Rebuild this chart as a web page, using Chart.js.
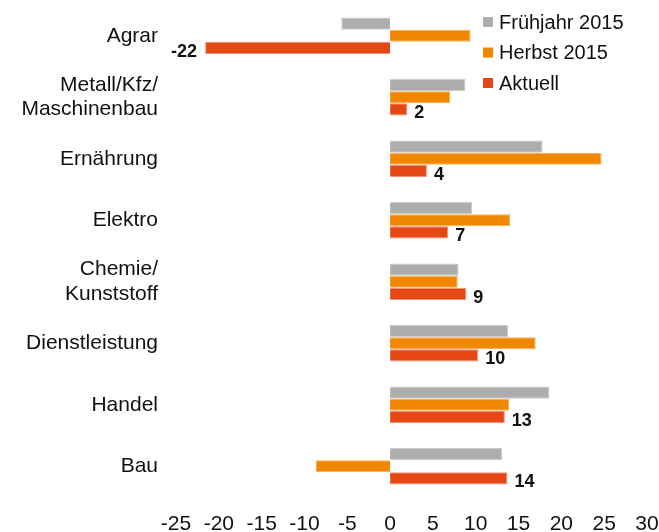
<!DOCTYPE html>
<html>
<head>
<meta charset="utf-8">
<script src="https://cdn.jsdelivr.net/npm/chart.js@4"></script>
<style>
  html, body { margin: 0; padding: 0; background: #fff; }
  #wrap { width: 659px; height: 532px; }
</style>
</head>
<body>
<div id="wrap"><canvas id="chart" width="659" height="532"></canvas></div>
<script>
// categories and series values
const categories = [
    'Agrar',
    ['Metall/Kfz/', 'Maschinenbau'],
    'Ernährung',
    'Elektro',
    ['Chemie/', 'Kunststoff'],
    'Dienstleistung',
    'Handel',
    'Bau'
];
const fruehjahr2015 = [-5.7, 8.8, 17.8, 9.6, 8.0, 13.8, 18.6, 13.1];
const herbst2015 = [9.4, 7.0, 24.7, 14.0, 7.9, 17.0, 13.9, -8.7];
const aktuell = [-21.6, 2.0, 4.3, 6.8, 8.9, 10.3, 13.4, 13.7];
const xTicks = [-25, 30, 5]; // min, max, step

const font = 'Liberation Sans, Arial, sans-serif';

// legend drawn inside the plot area, top right
const legendPlugin = {
    id: 'cornerLegend',
    afterDraw(chart) {
        const ctx = chart.ctx;
        ctx.save();
        ctx.font = '20px ' + font;
        ctx.textBaseline = 'middle';
        chart.data.datasets.forEach((ds, i) => {
            const y = 22 + i * 30.5;
            ctx.fillStyle = ds.backgroundColor;
            ctx.fillRect(483, y - 5, 10, 10);
            ctx.fillStyle = '#111';
            ctx.fillText(ds.label, 499, y + 1);
        });
        ctx.restore();
    }
};

// bold value labels at the end of the "Aktuell" bars
const valueLabels = {
    id: 'valueLabels',
    afterDatasetsDraw(chart) {
        const ctx = chart.ctx;
        const meta = chart.getDatasetMeta(2);
        ctx.save();
        ctx.font = 'bold 18px ' + font;
        ctx.fillStyle = '#111';
        ctx.textBaseline = 'middle';
        meta.data.forEach((bar, i) => {
            const v = aktuell[i];
            const txt = String(Math.round(v));
            const y = bar.y + 4;
            if (v < 0) {
                ctx.textAlign = 'right';
                ctx.fillText(txt, bar.x - 8, y);
            } else {
                ctx.textAlign = 'left';
                ctx.fillText(txt, bar.x + 7, y);
            }
        });
        ctx.restore();
    }
};

new Chart(document.getElementById('chart'), {
    type: 'bar',
    data: {
        labels: categories,
        datasets: [
            { label: 'Frühjahr 2015', data: fruehjahr2015, backgroundColor: '#ADADAD', borderColor: '#CBCBCB', borderWidth: 1 },
            { label: 'Herbst 2015', data: herbst2015, backgroundColor: '#F18700', borderColor: '#F7AE5A', borderWidth: 1 },
            { label: 'Aktuell', data: aktuell, backgroundColor: '#E54815', borderColor: '#F0917A', borderWidth: 1 }
        ]
    },
    options: {
        indexAxis: 'y',
        responsive: false,
        animation: false,
        layout: { padding: { left: 0, right: 2, top: 5, bottom: 0 } },
        categoryPercentage: 0.59,
        barPercentage: 1.0,
        plugins: {
            legend: { display: false },
            tooltip: { enabled: false }
        },
        scales: {
            x: {
                min: xTicks[0],
                max: xTicks[1],
                afterFit(scale) {
                    scale.height = 35;
                    scale.paddingLeft = 0;
                    scale.paddingRight = 12;
                },
                ticks: { stepSize: xTicks[2], color: '#111', font: { family: font, size: 21 }, padding: 15 },
                grid: { display: false, drawTicks: false },
                border: { display: false }
            },
            y: {
                afterFit(scale) {
                    scale.width = 176;
                    scale.paddingTop = 0;
                    scale.paddingBottom = 0;
                },
                ticks: { color: '#111', font: { family: font, size: 21, lineHeight: 1.15 }, padding: 18 },
                grid: { display: false, drawTicks: false },
                border: { display: false }
            }
        }
    },
    plugins: [legendPlugin, valueLabels]
});
</script>
</body>
</html>
